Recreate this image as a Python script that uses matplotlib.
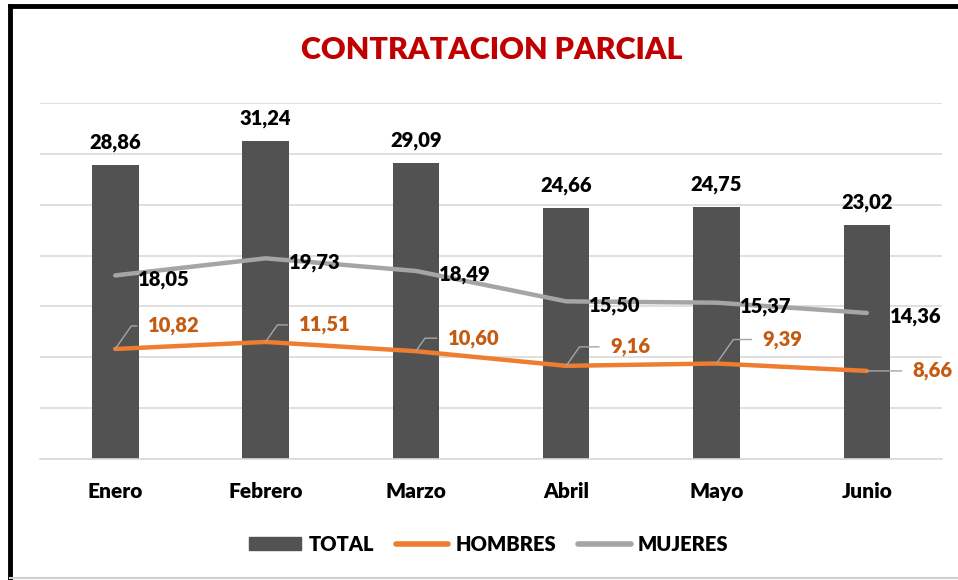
import matplotlib.pyplot as plt
from matplotlib.lines import Line2D
import numpy as np

plt.rcParams['font.family'] = ['Lato', 'DejaVu Sans']
plt.rcParams['font.weight'] = 'heavy'

meses = ['Enero', 'Febrero', 'Marzo', 'Abril', 'Mayo', 'Junio']
total = [28.86, 31.24, 29.09, 24.66, 24.75, 23.02]
hombres = [10.82, 11.51, 10.60, 9.16, 9.39, 8.66]
mujeres = [18.05, 19.73, 18.49, 15.50, 15.37, 14.36]

def fmt(v):
    return f'{v:.2f}'.replace('.', ',')

fig = plt.figure(figsize=(9.58, 5.80), dpi=100)
ax = fig.add_axes([0.0418, 0.2086, 0.9415, 0.6138])

x = np.arange(len(meses))
ax.bar(x, total, width=0.31, color='#525252', zorder=2)
ax.plot(x, hombres, color='#ED7D31', lw=3.2, solid_capstyle='round', zorder=3)
ax.plot(x, mujeres, color='#A5A5A5', lw=3.2, solid_capstyle='round', zorder=3)

# etiquetas total
for xi, v in zip(x, total):
    ax.annotate(fmt(v), (xi, v), xytext=(0, 13), textcoords='offset pixels',
                ha='center', va='bottom', fontsize=14.5, color='black')

# etiquetas mujeres
for xi, v in zip(x, mujeres):
    ax.annotate(fmt(v), (xi, v), xytext=(23, -4), textcoords='offset pixels',
                ha='left', va='center', fontsize=14.5, color='black', zorder=4)

# etiquetas hombres con lineas guia
h_off = [(33, 23), (33, 17), (32, 13), (44, 19), (46, 24), (46, 0)]
for xi, v, (dx, dy) in zip(x, hombres, h_off):
    if dy == 0:
        cs = 'arc3'
    else:
        cs = 'angle,angleA=180,angleB=55,rad=0'
    ax.annotate(fmt(v), (xi, v), xytext=(dx, dy), textcoords='offset pixels',
                ha='left', va='center', fontsize=14.5, color='#C55A11', zorder=4,
                arrowprops=dict(arrowstyle='-', color='#A6A6A6', lw=1,
                                connectionstyle=cs, relpos=(0, 0.5),
                                shrinkA=6, shrinkB=0))

ax.set_ylim(0, 35)
ax.set_xlim(-0.5, 5.5)
ax.set_yticks(np.arange(0, 36, 5))
ax.yaxis.grid(True, color='#D9D9D9', lw=1.2, zorder=0)
ax.set_axisbelow(True)
ax.tick_params(axis='y', left=False, labelleft=False)
ax.tick_params(axis='x', bottom=False, pad=13, labelsize=15)
ax.set_xticks(x)
ax.set_xticklabels(meses)
for s in ['top', 'right', 'left']:
    ax.spines[s].set_visible(False)
ax.spines['bottom'].set_color('#D9D9D9')
ax.spines['bottom'].set_linewidth(1.2)

fig.text(0.513, 0.913, 'CONTRATACION PARCIAL', ha='center', va='center',
         fontsize=22, color='#C00000', fontweight='heavy')

handles = [
    plt.Rectangle((0, 0), 1, 1, color='#525252'),
    Line2D([0], [0], color='#ED7D31', lw=4, solid_capstyle='round'),
    Line2D([0], [0], color='#A5A5A5', lw=4, solid_capstyle='round'),
]
fig.legend(handles, ['TOTAL', 'HOMBRES', 'MUJERES'], loc='center',
           bbox_to_anchor=(0.51, 0.062), ncol=3, frameon=False,
           fontsize=14.5, handlelength=2.6, handleheight=0.6,
           handletextpad=0.35, columnspacing=1.1)

# marco
fig.add_artist(Line2D([0.0105, 1.0], [0.9905, 0.9905], color='black', lw=3.5, transform=fig.transFigure))
fig.add_artist(Line2D([0.0105, 0.0105], [0.0, 0.9905], color='black', lw=3.5, transform=fig.transFigure))
fig.add_artist(Line2D([0.0105, 1.0], [0.003, 0.003], color='#D0D0D0', lw=1.5, transform=fig.transFigure))

fig.savefig('out.png', dpi=100)
